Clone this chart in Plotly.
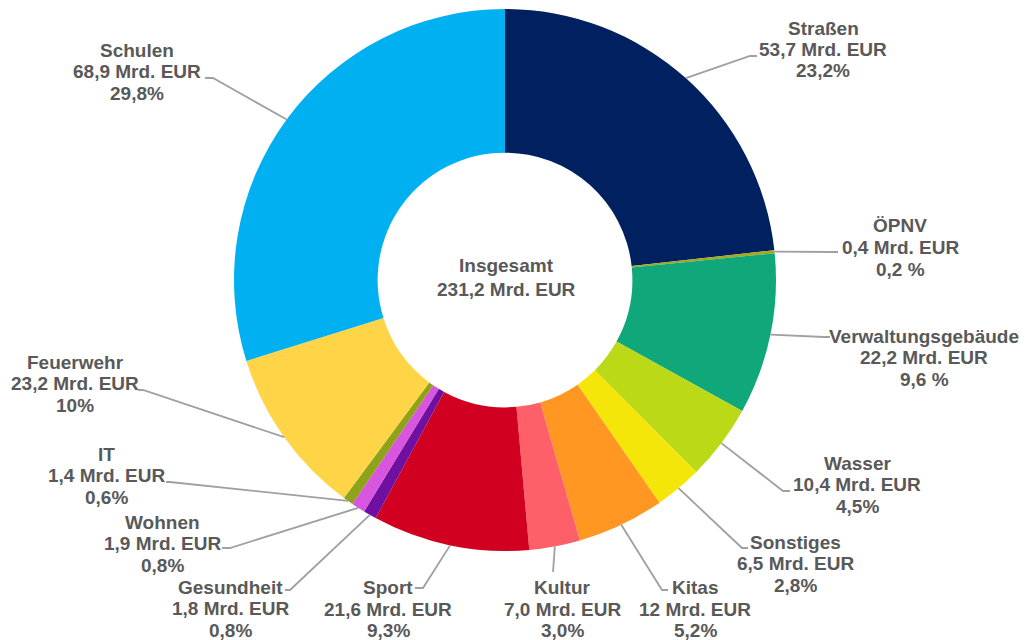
import math
import plotly.graph_objects as go

# ---- data ----
labels = ["Straßen", "ÖPNV", "Verwaltungsgebäude", "Wasser", "Sonstiges", "Kitas",
          "Kultur", "Sport", "Gesundheit", "Wohnen", "IT", "Feuerwehr", "Schulen"]
values = [53.7, 0.4, 22.2, 10.4, 6.5, 12.0, 7.0, 21.6, 1.8, 1.9, 1.4, 23.2, 68.9]
value_texts = ["53,7", "0,4", "22,2", "10,4", "6,5", "12", "7,0", "21,6", "1,8", "1,9",
               "1,4", "23,2", "68,9"]
pct_texts = ["23,2%", "0,2 %", "9,6 %", "4,5%", "2,8%", "5,2%", "3,0%", "9,3%", "0,8%",
             "0,8%", "0,6%", "10%", "29,8%"]
total_label = "Insgesamt"
total_text = "231,2 Mrd. EUR"
unit = "Mrd. EUR"

colors = ["#002060", "#A3A81C", "#10A87A", "#BCD917", "#F5E60A", "#FF9722", "#FF5F69",
          "#D10020", "#7010A0", "#D855E0", "#8FA31A", "#FFD447", "#00B0F0"]

# ---- layout (screen pixels; page body has an 8px margin) ----
W, H = 1028, 640
OFF = 8
CX, CY, R = 505, 280, 271
HOLE = 0.47
LINE = 21.5

# first-line centre of label block, elbow point, line end point (pixels)
label_pos = {
    "Straßen": ((823, 28), (750, 56), (757, 56)),
    "ÖPNV": ((900, 226), (834, 252), (838, 252)),
    "Verwaltungsgebäude": ((924, 336), (824, 337), (830, 337)),
    "Wasser": ((857, 463), (783, 491), (790, 491)),
    "Sonstiges": ((795, 542), (742, 548), (748, 548)),
    "Kitas": ((695, 587.5), (662, 590), (668, 590)),
    "Kultur": ((562, 587.5), (553, 572), (553, 572)),
    "Sport": ((388, 587.5), (423, 588), (415, 588)),
    "Gesundheit": ((230, 587), (290, 590), (285, 590)),
    "Wohnen": ((162, 522), (230, 548), (222, 548)),
    "IT": ((106, 454), (170, 482), (166, 482)),
    "Feuerwehr": ((75, 362), (143, 390), (138, 390)),
    "Schulen": ((137, 50), (213, 78), (205, 78)),
}


def px(x):
    return (x - OFF) / W


def py(y):
    return 1 - (y - OFF) / H


fig = go.Figure(go.Pie(
    labels=labels, values=values, sort=False, direction="clockwise", rotation=0,
    hole=HOLE, textinfo="none", hoverinfo="label+value",
    marker=dict(colors=colors, line=dict(width=0)),
    domain=dict(x=[px(CX - R), px(CX + R)], y=[py(CY + R), py(CY - R)]),
    showlegend=False,
))

font = dict(family="Liberation Sans, Arial, sans-serif", size=19, color="#595959", weight="bold")

total = sum(values)
cum = 0.0
shapes = []
annotations = []


def add_text(x, y, text):
    annotations.append(dict(x=px(x), y=py(y), xref="paper", yref="paper", text=text,
                            showarrow=False, xanchor="center", yanchor="middle",
                            align="center", font=font))


for lab, val, vt, pt in zip(labels, values, value_texts, pct_texts):
    mid = (cum + val / 2) / total
    cum += val
    ang = 2 * math.pi * mid
    sx = CX + R * math.sin(ang)
    sy = CY - R * math.cos(ang)
    (tx, ty), (ex, ey), (fx, fy) = label_pos[lab]
    path = f"M {px(sx)} {py(sy)} L {px(ex)} {py(ey)} L {px(fx)} {py(fy)}"
    shapes.append(dict(type="path", xref="paper", yref="paper", path=path,
                       line=dict(color="#A0A0A0", width=1.8)))
    for i, line in enumerate([lab, f"{vt} {unit}", pt]):
        add_text(tx, ty + i * LINE, line)

add_text(506, 265, total_label)
add_text(506, 289, total_text)

fig.update_layout(width=W, height=H, margin=dict(l=0, r=0, t=0, b=0),
                  paper_bgcolor="white", plot_bgcolor="white",
                  shapes=shapes, annotations=annotations)

fig.write_html("out.html")
